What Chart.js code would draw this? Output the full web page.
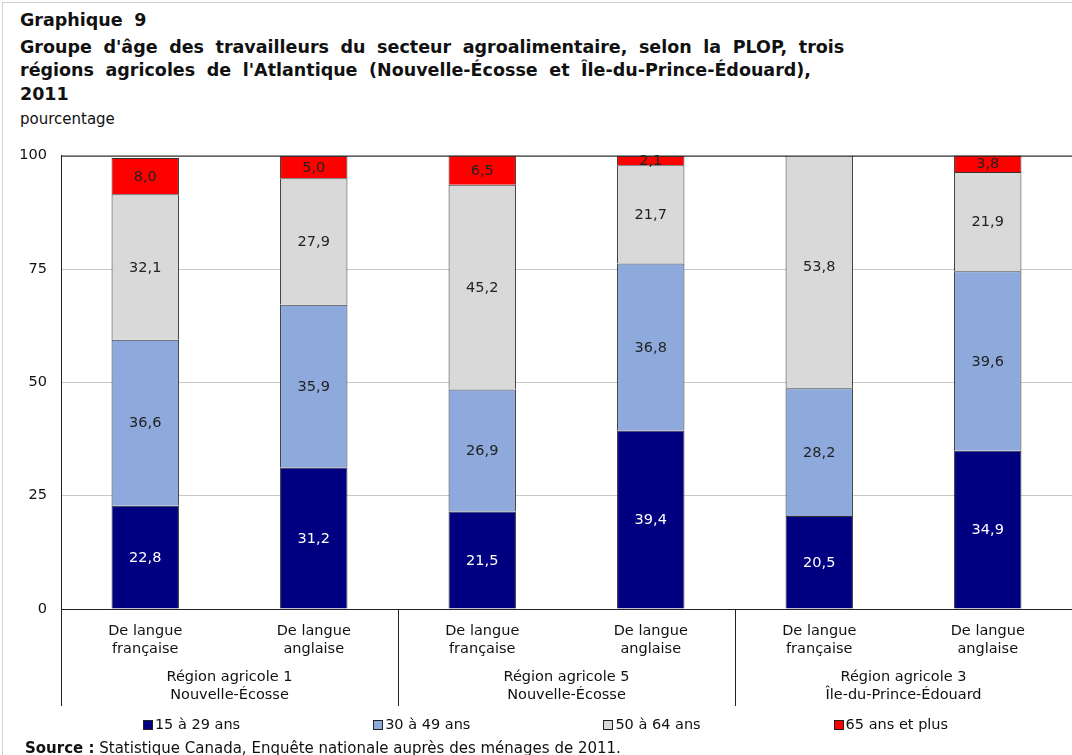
<!DOCTYPE html>
<html>
<head>
<meta charset="utf-8">
<script src="https://cdn.jsdelivr.net/npm/chart.js@4/dist/chart.umd.min.js"></script>
<style>
  body { margin: 0; width: 1072px; height: 755px; overflow: hidden; background: #fff; font-family: "DejaVu Sans", Verdana, sans-serif; }
  #frame { position: absolute; left: 2px; top: 2px; width: 1200px; height: 900px; border: 1px solid #d0d0d0; }
  #title { position: absolute; left: 20px; top: 9px; font-size: 17.5px; font-weight: bold; line-height: 23.5px; word-spacing: 5.5px; color: #111; white-space: nowrap; }
  #title .first { margin-bottom: 3px; }
  #unit { position: absolute; left: 20px; top: 110px; font-size: 15px; color: #111; }
  #wrap { position: absolute; left: 0; top: 133px; width: 1072px; height: 619px; }
  #source { position: absolute; left: 25px; top: 739px; font-size: 15px; color: #111; white-space: nowrap; }
</style>
</head>
<body>
<div id="frame"></div>
<div id="title"><div class="first">Graphique 9</div>Groupe d'âge des travailleurs du secteur agroalimentaire, selon la PLOP, trois<br>régions agricoles de l'Atlantique (Nouvelle-Écosse et Île-du-Prince-Édouard),<br>2011</div>
<div id="unit">pourcentage</div>
<div id="wrap"><canvas id="chart"></canvas></div>
<div id="source"><b>Source :</b> Statistique Canada, Enquête nationale auprès des ménages de 2011.</div>
<script>
const categories = [
    ['De langue', 'française'], ['De langue', 'anglaise'],
    ['De langue', 'française'], ['De langue', 'anglaise'],
    ['De langue', 'française'], ['De langue', 'anglaise']
];
const regions = [
    ['Région agricole 1', 'Nouvelle-Écosse'],
    ['Région agricole 5', 'Nouvelle-Écosse'],
    ['Région agricole 3', 'Île-du-Prince-Édouard']
];
const age15to29 = [22.8, 31.2, 21.5, 39.4, 20.5, 34.9];
const age30to49 = [36.6, 35.9, 26.9, 36.8, 28.2, 39.6];
const age50to64 = [32.1, 27.9, 45.2, 21.7, 53.8, 21.9];
const age65plus = [8.0, 5.0, 6.5, 2.1, null, 3.8];
const yTicks = [0, 25, 50, 75, 100];

const FONT = '"DejaVu Sans", Verdana, sans-serif';
const FS = 14.5;

// data labels drawn in the middle of each segment
const segLabels = {
    id: 'segLabels',
    afterDatasetsDraw(chart) {
        const ctx = chart.ctx;
        ctx.save();
        ctx.font = FS + 'px ' + FONT;
        ctx.textAlign = 'center';
        ctx.textBaseline = 'middle';
        chart.data.datasets.forEach((ds, i) => {
            chart.getDatasetMeta(i).data.forEach((bar, j) => {
                const v = ds.data[j];
                if (v == null) return;
                ctx.fillStyle = i === 0 ? '#ffffff' : '#222222';
                ctx.fillText(v.toFixed(1).replace('.', ','), bar.x, (bar.y + bar.base) / 2 + 1);
            });
        });
        ctx.restore();
    }
};

// top / left frame of plot, group separators under the axis, and the legend row
const frame = {
    id: 'frame',
    afterDraw(chart) {
        const ctx = chart.ctx, a = chart.chartArea, x = chart.scales.x, x2 = chart.scales.x2;
        ctx.save();
        ctx.strokeStyle = '#222';
        ctx.lineWidth = 1;
        ctx.beginPath();
        ctx.moveTo(a.left + 0.5, a.bottom);
        ctx.lineTo(a.left + 0.5, a.top + 0.5);
        ctx.lineTo(a.right, a.top + 0.5);
        const seps = [a.left + 0.5];
        for (let k = 2; k < categories.length; k += 2) {
            seps.push(Math.round((x.getPixelForValue(k - 1) + x.getPixelForValue(k)) / 2) + 0.5);
        }
        seps.forEach(sx => { ctx.moveTo(sx, a.bottom); ctx.lineTo(sx, x2.bottom); });
        ctx.stroke();

        // legend
        ctx.font = FS + 'px ' + FONT;
        ctx.textBaseline = 'middle';
        ctx.textAlign = 'left';
        const box = 9, gap = 3, spacing = 133;
        const items = chart.data.datasets.map(ds => ({ ds, w: box + gap + ctx.measureText(ds.label).width }));
        const total = items.reduce((s, it) => s + it.w, 0) + spacing * (items.length - 1);
        let cx = (a.left + a.right) / 2 - total / 2 - 21;
        const ly = x2.bottom + 18;
        items.forEach(it => {
            const bx = Math.round(cx) + 0.5, by = Math.round(ly - box / 2) + 0.5;
            ctx.fillStyle = it.ds.backgroundColor;
            ctx.fillRect(bx, by, box, box);
            ctx.strokeStyle = '#222';
            ctx.strokeRect(bx, by, box, box);
            ctx.fillStyle = '#111';
            ctx.fillText(it.ds.label, cx + box + gap, ly + 1);
            cx += it.w + spacing;
        });
        ctx.restore();
    }
};

new Chart(document.getElementById('chart'), {
    type: 'bar',
    data: {
        labels: categories,
        datasets: [
            { label: '15 à 29 ans', data: age15to29, backgroundColor: '#000080' },
            { label: '30 à 49 ans', data: age30to49, backgroundColor: '#8eaadc' },
            { label: '50 à 64 ans', data: age50to64, backgroundColor: '#d9d9d9' },
            { label: '65 ans et plus', data: age65plus, backgroundColor: '#ff0000' }
        ].map(d => Object.assign(d, { borderColor: '#333', borderWidth: 1, barPercentage: 0.4, categoryPercentage: 1 }))
    },
    options: {
        responsive: true,
        maintainAspectRatio: false,
        animation: false,
        layout: { padding: { top: 2, right: 0, left: 0, bottom: 46 } },
        scales: {
            x: {
                stacked: true,
                grid: { display: false },
                border: { display: true, color: '#222' },
                ticks: { color: '#111', font: { family: FONT, size: FS }, padding: 6, maxRotation: 0, autoSkip: false },
                afterFit: s => { s.height = 51; }
            },
            x2: {
                type: 'category',
                labels: regions,
                offset: true,
                grid: { display: false },
                border: { display: false },
                ticks: { color: '#111', font: { family: FONT, size: FS }, padding: 1, maxRotation: 0, autoSkip: false },
                afterFit: s => { s.height = 46; }
            },
            y: {
                stacked: true,
                min: 0, max: 100,
                afterBuildTicks: s => { s.ticks = yTicks.map(v => ({ value: v })); },
                grid: { color: '#c8c8c8', drawTicks: false },
                border: { display: true, color: '#222' },
                ticks: { color: '#111', font: { family: FONT, size: FS }, padding: 14 },
                afterFit: s => { s.width = 61; }
            }
        },
        plugins: {
            legend: { display: false },
            tooltip: { enabled: false }
        }
    },
    plugins: [segLabels, frame]
});
</script>
</body>
</html>
